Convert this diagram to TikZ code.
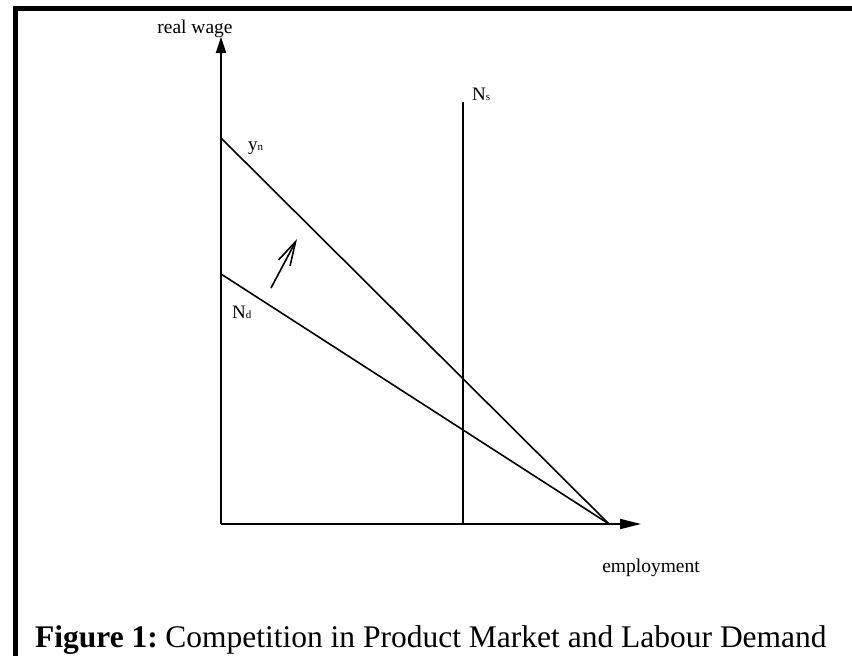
\documentclass[tikz,border=0pt]{standalone}
\usepackage{fontspec}
\setmainfont{Liberation Serif}
\usetikzlibrary{arrows.meta}
\begin{document}
\begin{tikzpicture}[x=1pt,y=-1pt,
  axis/.style={line width=1.9pt,-{Triangle[length=16pt,width=10pt]}},
  curve/.style={line width=1.6pt},
  lbl/.style={inner sep=0pt,anchor=base west,font=\fontsize{19}{19}\selectfont},
  txt/.style={inner sep=0pt,anchor=base,font=\fontsize{19.5}{19.5}\selectfont}]
\useasboundingbox (0,0) rectangle (852,656);
\fill[white] (0,0) rectangle (852,656);
% frame bars
\fill[black] (13,6) rectangle (852,11);
\fill[black] (13,6) rectangle (18,656);
% coordinates
\coordinate (O) at (221,524);
\coordinate (Ytip) at (221,37);
\coordinate (Xtip) at (641,524);
\coordinate (C) at (609,524);
\coordinate (Y0) at (221,138);
\coordinate (N0) at (221,274);
\coordinate (Stop) at (463,102);
\coordinate (Sbot) at (463,524);
\coordinate (Atail) at (271,288);
\coordinate (Ahead) at (297,239);
% axes
\draw[axis] (O) -- (Ytip);
\draw[line width=1.9pt,-{Triangle[length=21pt,width=10pt]}] (O) -- (Xtip);
% curves
\draw[curve] (Y0) -- (C);
\draw[curve] (N0) -- (C);
\draw[curve] (Sbot) -- (Stop);
\draw[line width=1.6pt,-{Straight Barb[length=24pt,width=13pt,line width=1.6pt]}] (Atail) -- (Ahead);
% labels
\node[txt] (rw) at (195,33) {real wage};
\node[txt] (emp) at (651,572) {employment};
\node[lbl] (ns) at (472,100) {N{\fontsize{11}{11}\selectfont s}};
\node[lbl] (yn) at (248,150) {y{\fontsize{11}{11}\selectfont n}};
\node[lbl] (nd) at (232,318) {N{\fontsize{11}{11}\selectfont d}};
\node[inner sep=0pt,anchor=base west,font=\fontsize{31.5}{31.5}\selectfont] (cap) at (35,647) {\textbf{Figure 1:}\hspace{-0.1em} Competition in Product Market and Labour Demand};
\end{tikzpicture}
\end{document}
